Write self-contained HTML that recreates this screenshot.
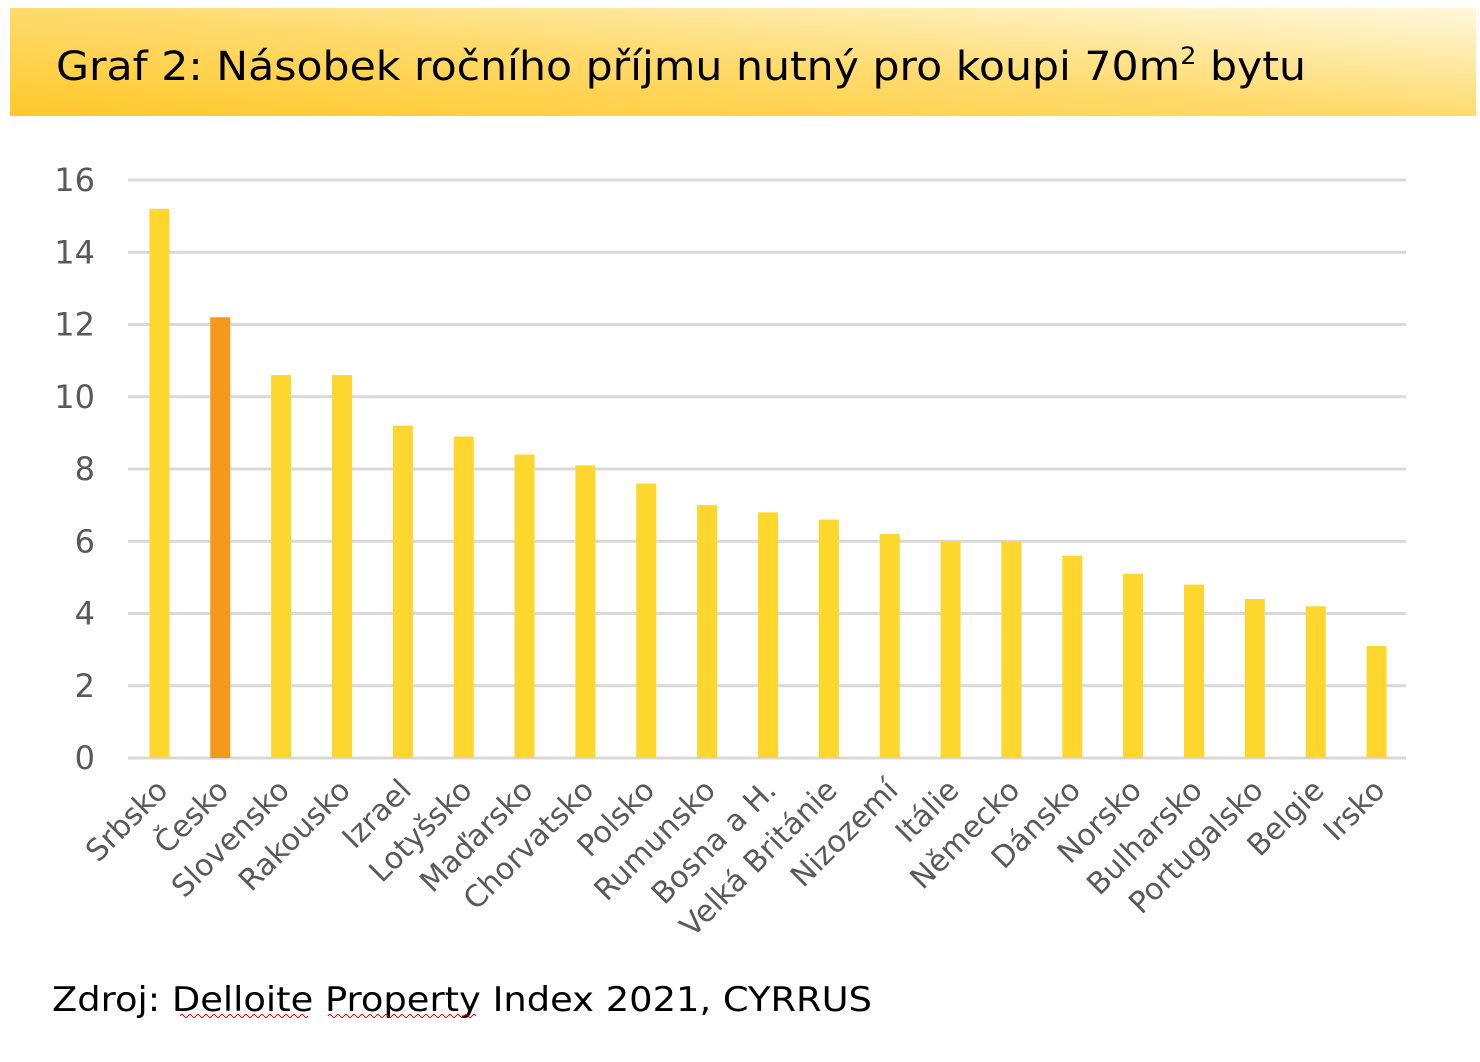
<!DOCTYPE html>
<html><head><meta charset="utf-8"><style>
html,body{margin:0;padding:0;background:#fff;width:1480px;height:1062px;overflow:hidden}
svg{display:block;font-family:"DejaVu Sans","Liberation Sans",sans-serif}
</style></head><body>
<svg id="chart" width="1480" height="1062">
<defs>
<linearGradient id="hg" x1="0" y1="1" x2="1" y2="0">
<stop offset="0" stop-color="#ffc72a"/><stop offset="0.5" stop-color="#ffdb6e"/><stop offset="1" stop-color="#fff8dc"/>
</linearGradient>
</defs>
<rect x="10" y="8" width="1466" height="108" fill="url(#hg)"/>
<text x="56" y="80" font-size="40" fill="#000" textLength="1250" lengthAdjust="spacingAndGlyphs">Graf 2: Násobek ročního příjmu nutný pro koupi 70m<tspan font-size="24" dy="-16">2</tspan><tspan dy="16"> bytu</tspan></text>
<g id="grid"></g><g id="bars"></g><g id="labels"></g>
<text x="52" y="1011" font-size="34" fill="#000" textLength="820" lengthAdjust="spacingAndGlyphs">Zdroj: Delloite Property Index 2021, CYRRUS</text>
<path d="M180 1016 q2 -3 4 0 t4 0 t4 0 t4 0 t4 0 t4 0 t4 0 t4 0 t4 0 t4 0 t4 0 t4 0 t4 0 t4 0 t4 0 t4 0 t4 0 t4 0 t4 0 t4 0 t4 0 t4 0 t4 0 t4 0 t4 0 t4 0 t4 0 t4 0 t4 0 t4 0 t4 0 t4 0" stroke="#d00" fill="none" stroke-width="1"/>
<path d="M328 1016 q2 -3 4 0 t4 0 t4 0 t4 0 t4 0 t4 0 t4 0 t4 0 t4 0 t4 0 t4 0 t4 0 t4 0 t4 0 t4 0 t4 0 t4 0 t4 0 t4 0 t4 0 t4 0 t4 0 t4 0 t4 0 t4 0 t4 0 t4 0 t4 0 t4 0 t4 0 t4 0 t4 0 t4 0 t4 0 t4 0 t4 0 t4 0" stroke="#d00" fill="none" stroke-width="1"/>
</svg>
<script>
const categories=["Srbsko","Česko","Slovensko","Rakousko","Izrael","Lotyšsko","Maďarsko","Chorvatsko","Polsko","Rumunsko","Bosna a H.","Velká Británie","Nizozemí","Itálie","Německo","Dánsko","Norsko","Bulharsko","Portugalsko","Belgie","Irsko"];
const values=[15.2,12.2,10.6,10.6,9.2,8.9,8.4,8.1,7.6,7.0,6.8,6.6,6.2,6.0,6.0,5.6,5.1,4.8,4.4,4.2,3.1];
const yTicks=[0,2,4,6,8,10,12,14,16];
const highlight="Česko";
const NS="http://www.w3.org/2000/svg";
const x0=128,x1=1406,yBase=758,yTop=180,yMax=16;
const y=v=>yBase-(v/yMax)*(yBase-yTop);
const step=(x1-x0)/categories.length;
const xc=i=>x0+step*(i+0.5)+1;
function mk(t,a){const e=document.createElementNS(NS,t);for(const k in a)e.setAttribute(k,a[k]);return e;}
const grid=document.getElementById('grid'),bars=document.getElementById('bars'),labels=document.getElementById('labels');
yTicks.forEach(t=>{
 const l=mk('line',{x1:x0,x2:x1,y1:y(t),y2:y(t),stroke:'#d9d9d9','stroke-width':3});
 
 
 grid.appendChild(l);
 const tx=mk('text',{x:95,y:y(t)+11,'text-anchor':'end','font-size':32,fill:'#595959'});
 tx.textContent=t;
 
 
 grid.appendChild(tx);
});
categories.forEach((c,i)=>{
 const r=mk('rect',{x:xc(i)-10,y:y(values[i]),width:20,height:yBase-y(values[i]),fill:c===highlight?'#f39a1a':'#fdd72e'});
 
 
 bars.appendChild(r);
 const tx=mk('text',{x:xc(i)+10,y:792,'text-anchor':'end','font-size':30,fill:'#595959',transform:`rotate(-45 ${xc(i)+10} 792)`});
 tx.textContent=c;
 
 
 labels.appendChild(tx);
});
</script>
</body></html>
